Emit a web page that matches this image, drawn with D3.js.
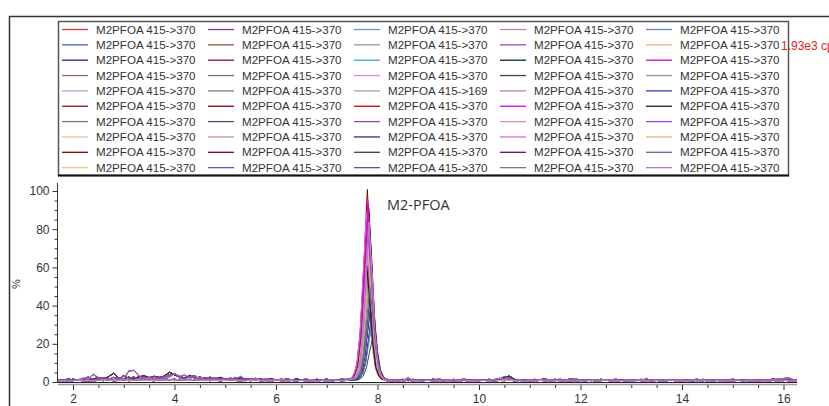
<!DOCTYPE html>
<meta charset="utf-8">
<html>
<head>
<style>
  body { margin: 0; background: #fff; }
  .legend text { font-family: "Liberation Sans", Arial, sans-serif; font-size: 11.6px; fill: #333; }
  .axis text { font-family: "Liberation Sans", Arial, sans-serif; font-size: 12px; fill: #333; }
  .axis path, .axis line { stroke: #333; }
  .trace { fill: none; stroke-width: 1px; }
</style>
</head>
<body>
<svg width="829" height="406"></svg>
<script src="https://d3js.org/d3.v7.min.js"></script>
<script>

// legend labels, column by column (5 columns x 10 rows)
var labels = [];
for (var i = 0; i < 50; i++) labels.push("M2PFOA 415->370");
labels[24] = "M2PFOA 415->169";

var colors = [
  "#d23c3c","#4b5ccc","#1c1ca0","#8c6c6c","#a8a2dc","#8b0d0d","#8a7272","#f2c294","#820000","#f0c286",
  "#7e3a86","#8a5244","#7a0a46","#5e7a7a","#6e8282","#7c0000","#4e4e6e","#c49494","#7e0010","#5c5cb4",
  "#6a96c4","#a494aa","#3aa2e6","#d684e6","#a2a2b4","#c80000","#9a44a8","#2c2c96","#2c4a4a","#5252b8",
  "#c48484","#9646c8","#002a2a","#3e3e5e","#b88686","#e000e0","#d49494","#e864e8","#720072","#907272",
  "#6488b4","#e2b484","#d400d4","#969696","#3444a6","#341414","#9646e6","#e2b484","#72648e","#b474d8"
];

// peak apex height (%) and retention time per trace
var peakHeight = [
  62, 90, 37, 71, 55, 84, 68, 46, 100, 59,
  79, 73, 92, 28, 66, 88, 34, 61, 76, 43,
  64, 52, 26, 81, 31, 74, 86, 39, 22, 57,
  69, 58, 44, 35, 72, 94, 83, 87, 48, 63,
  41, 67, 85, 53, 36, 60, 78, 70, 49, 80
];
var peakTime = [
  7.80,7.83,7.86,7.81,7.78,7.82,7.85,7.79,7.80,7.84,
  7.81,7.78,7.82,7.88,7.79,7.83,7.89,7.81,7.77,7.85,
  7.82,7.79,7.87,7.81,7.88,7.78,7.82,7.86,7.90,7.79,
  7.83,7.80,7.87,7.85,7.79,7.81,7.83,7.78,7.88,7.80,
  7.86,7.82,7.80,7.84,7.89,7.79,7.82,7.81,7.85,7.83
];
// peak profile (offset in min, fraction of apex)
var peakOffset = [-0.3,-0.24,-0.18,-0.12,-0.06,0,0.06,0.12,0.18,0.24,0.3];
var peakShape  = [0.01,0.04,0.11,0.3,0.66,1,0.68,0.32,0.11,0.04,0.01];

// baseline sample times (min)
var baseTimes = [
  1.7,1.8,1.9,2.0,2.1,2.2,2.3,2.4,2.5,2.6,
  2.7,2.8,2.9,3.0,3.1,3.2,3.3,3.4,3.5,3.6,
  3.7,3.8,3.9,4.0,4.1,4.2,4.3,4.4,4.5,4.6,
  4.7,4.8,4.9,5.0,5.1,5.2,5.3,5.4,5.5,5.6,
  5.7,5.8,5.9,6.0,6.1,6.2,6.3,6.4,6.5,6.6,
  6.7,6.8,6.9,7.0,7.1,7.2,7.3,7.4,7.5,7.6,
  7.7,7.8,7.9,8.0,8.1,8.2,8.3,8.4,8.5,8.6,
  8.7,8.8,8.9,9.0,9.1,9.2,9.3,9.4,9.5,9.6,
  9.7,9.8,9.9,10.0,10.1,10.2,10.3,10.4,10.5,10.6,
  10.7,10.8,10.9,11.0,11.1,11.2,11.3,11.4,11.5,11.6,
  11.7,11.8,11.9,12.0,12.1,12.2,12.3,12.4,12.5,12.6,
  12.7,12.8,12.9,13.0,13.1,13.2,13.3,13.4,13.5,13.6,
  13.7,13.8,13.9,14.0,14.1,14.2,14.3,14.4,14.5,14.6,
  14.7,14.8,14.9,15.0,15.1,15.2,15.3,15.4,15.5,15.6,
  15.7,15.8,15.9,16.0,16.1,16.2,16.3
];

// baseline noise (%) for a few groups of traces
var noiseA = [
  0.8,1.2,0.6,1.5,0.9,1.1,0.7,1.6,2.2,1.4, 2.8,4.6,2.1,1.8,2.5,1.9,2.7,3.3,2.2,3.0,
  2.4,3.1,5.2,3.6,2.8,2.2,3.4,2.0,2.6,1.8, 2.1,1.6,2.4,1.5,1.9,1.3,2.2,1.4,1.7,1.2,
  1.5,1.1,1.8,1.0,1.4,1.2,0.9,1.6,1.1,1.3, 0.8,1.4,1.0,1.2,0.7,1.1,1.5,0.9,1.3,1.8,
  1.2,1.0,0.9,1.4,0.8,1.1,0.6,1.3,0.9,1.0, 1.4,0.7,1.2,0.9,1.5,0.8,1.1,0.6,1.3,1.0,
  0.8,1.2,0.7,1.1,0.9,1.4,1.0,1.6,2.4,3.1, 1.4,0.9,1.2,0.7,1.1,0.8,1.3,0.6,1.0,0.9,
  1.2,0.7,1.1,0.8,1.3,0.9,0.6,1.0,1.2,0.8, 0.9,1.3,0.7,1.1,0.8,1.2,0.6,1.0,0.9,1.1,
  0.7,1.2,0.8,1.0,1.3,0.6,0.9,1.1,0.8,1.2, 0.9,0.7,1.1,0.8,1.0,1.3,0.7,0.9,1.2,0.8,
  1.0,1.6,0.9,0.7,1.1,0.8,1.0
];
var noiseB = [
  1.0,0.6,1.3,0.8,1.1,2.0,1.4,3.9,2.3,1.5, 1.8,1.2,2.0,1.6,5.8,6.1,3.2,1.9,2.5,1.7,
  2.2,3.0,2.6,4.4,2.9,3.6,2.1,2.7,1.9,2.4, 1.6,2.2,1.8,1.3,2.0,1.5,2.9,1.2,1.7,1.4,
  1.1,1.6,1.3,0.9,1.5,1.0,1.3,0.8,1.2,1.5, 1.0,0.7,1.3,0.9,1.1,0.8,1.6,1.2,1.9,2.3,
  1.0,1.3,0.8,1.1,0.9,1.4,0.7,1.2,1.0,0.8, 1.3,1.0,0.7,1.2,0.9,1.6,1.1,0.8,1.4,0.9,
  1.7,0.8,1.2,0.9,1.1,0.7,1.3,1.0,1.8,1.2, 0.9,1.3,0.7,1.1,1.4,0.8,1.2,0.9,1.0,1.5,
  0.8,1.1,1.7,0.9,1.2,0.7,1.0,1.3,0.8,1.1, 1.5,0.9,1.2,0.7,1.1,1.4,0.8,1.0,1.2,0.9,
  1.1,0.8,1.3,0.9,1.0,1.2,0.7,1.4,1.1,0.8, 1.2,0.9,1.0,1.5,0.8,1.1,0.7,1.3,1.0,1.2,
  0.9,1.2,1.5,1.8,2.2,1.1,1.4
];
var noiseC = [
  0.5,0.9,0.4,0.7,1.0,0.6,0.8,0.5,0.9,0.7, 1.1,0.6,0.8,1.2,0.7,0.9,1.3,0.8,1.0,0.6,
  1.4,0.9,1.1,0.7,1.5,1.0,0.8,1.2,0.9,1.1, 0.7,1.0,0.6,0.9,1.2,0.8,0.5,0.9,0.7,1.0,
  0.6,0.8,0.5,0.9,0.7,0.4,0.8,0.6,0.9,0.5, 0.7,0.4,0.8,0.6,0.5,0.9,0.7,0.8,1.1,1.4,
  0.8,0.6,0.9,0.5,0.7,0.4,0.8,0.6,0.5,0.9, 0.6,0.4,0.7,0.9,0.5,0.8,0.6,0.4,0.7,0.5,
  0.8,0.6,0.4,0.7,0.9,0.5,0.6,0.8,0.7,1.0, 0.6,0.8,0.5,0.7,0.4,0.9,0.6,0.5,0.8,0.7,
  0.5,0.7,0.4,0.8,0.6,1.0,0.5,0.7,0.9,0.6, 0.4,0.8,0.6,0.5,0.9,0.7,0.4,0.6,0.8,0.5,
  0.7,0.9,0.5,0.6,0.4,0.8,0.7,1.0,0.5,0.6, 0.8,0.4,0.7,0.5,0.9,0.6,0.8,0.5,0.7,0.4,
  0.6,0.8,0.5,0.9,0.7,0.5,0.6
];
var noiseD = [
  1.3,0.8,1.6,1.1,0.9,1.4,2.6,1.2,1.7,2.1, 1.3,2.4,1.6,3.4,2.0,2.6,1.5,2.2,1.8,2.9,
  1.7,2.3,3.8,4.1,2.5,1.9,2.8,3.2,1.6,2.0, 2.5,1.4,1.9,1.2,1.6,2.1,1.1,1.5,1.3,1.8,
  0.9,1.4,1.0,1.3,0.8,1.6,1.2,0.9,1.1,0.7, 1.3,0.9,1.1,1.5,0.8,1.2,1.0,1.4,1.6,2.0,
  0.9,1.2,0.7,1.0,1.3,0.8,1.1,0.9,1.4,0.7, 1.0,1.2,0.8,1.1,0.6,1.3,0.9,1.0,0.7,1.2,
  0.9,1.1,1.3,0.8,1.0,1.2,0.7,1.4,2.8,2.2, 1.1,0.8,1.0,1.3,0.7,1.2,1.6,1.0,1.4,0.9,
  1.1,1.5,1.3,0.8,1.0,1.2,0.9,1.4,1.0,0.7, 1.2,0.9,1.0,1.3,0.8,1.1,1.5,0.9,1.2,0.8,
  1.0,1.3,0.7,1.1,0.9,1.2,1.4,0.8,1.0,1.1, 0.8,1.2,0.9,1.4,1.0,0.7,1.1,0.9,1.3,0.8,
  1.1,0.9,1.2,1.4,1.0,0.8,1.1
];
var noiseE = [
  0.7,1.0,0.5,0.8,1.2,0.9,0.6,1.1,0.8,1.4, 0.9,1.3,1.0,1.6,1.2,0.8,1.5,1.1,2.0,1.3,
  1.0,1.8,1.2,1.5,0.9,1.7,1.1,1.4,2.6,1.2, 0.9,1.3,1.0,1.6,0.8,1.2,1.0,0.7,1.3,1.9,
  1.0,0.7,1.2,0.9,1.4,0.8,1.1,0.6,1.0,0.8, 1.2,0.7,1.0,0.8,1.3,0.9,0.6,1.1,1.8,2.2,
  1.0,0.8,1.1,0.7,0.9,1.2,0.8,1.0,0.6,2.1, 0.9,0.7,1.1,0.8,1.0,0.6,1.2,0.9,1.4,0.8,
  1.0,0.7,0.9,1.2,0.8,1.0,1.3,1.9,1.2,1.6, 0.8,1.1,0.7,1.0,0.9,1.2,0.8,1.0,0.7,1.1,
  0.9,0.8,1.2,0.7,1.0,0.9,1.1,0.8,1.3,0.7, 1.0,0.8,1.1,0.9,0.7,1.2,0.8,1.0,0.9,1.1,
  0.8,1.0,0.7,1.2,0.9,1.1,0.8,0.6,1.0,0.9, 1.1,0.8,1.0,0.7,1.2,0.9,0.8,1.1,0.7,1.0,
  0.9,1.2,0.8,1.0,0.7,0.9,0.8
];
var noiseSets = [noiseA, noiseB, noiseC, noiseD, noiseE];

var yTicks = [0, 20, 40, 60, 80, 100];
var xTicks = [2, 4, 6, 8, 10, 12, 14, 16];

var svg = d3.select("svg");

// build each trace: baseline outside the peak window + peak points
var traces = colors.map(function (c, s) {
  var noise = noiseSets[s % noiseSets.length];
  var t0 = peakTime[s] + peakOffset[0], t1 = peakTime[s] + peakOffset[peakOffset.length - 1];
  var pts = [];
  baseTimes.forEach(function (t, k) {
    if (t < t0 - 0.02 || t > t1 + 0.02) pts.push({t: t, v: noise[k]});
  });
  peakOffset.forEach(function (o, k) {
    pts.push({t: peakTime[s] + o, v: 0.8 + peakShape[k] * peakHeight[s]});
  });
  pts.sort(function (a, b) { return a.t - b.t; });
  return {color: c, pts: pts};
});

var x = d3.scaleLinear().domain([1.7, 16.26]).range([57.8, 796.7]);
var y = d3.scaleLinear().domain([0, 100]).range([382, 191]);

// outer frame
svg.append("path")
    .attr("d", "M9.5,406V16.5H829")
    .attr("fill", "none")
    .attr("stroke", "#333")
    .attr("stroke-width", 1.5);

// legend
var legend = svg.append("g").attr("class", "legend");
legend.append("rect")
    .attr("x", 58.5).attr("y", 21.5)
    .attr("width", 730).attr("height", 154)
    .attr("fill", "#fff")
    .attr("stroke", "#555")
    .attr("stroke-width", 1.5);
svg.append("line")
    .attr("x1", 58).attr("x2", 789)
    .attr("y1", 175.5).attr("y2", 175.5)
    .attr("stroke", "#111").attr("stroke-width", 2);

var item = legend.selectAll("g.item")
    .data(labels)
    .enter().append("g")
    .attr("class", "item")
    .attr("transform", function (d, i) {
      var col = Math.floor(i / 10), row = i % 10;
      return "translate(" + (62 + col * 146) + "," + (29.5 + row * 15.35) + ")";
    });
item.append("line")
    .attr("x1", 0).attr("x2", 26)
    .attr("stroke", function (d, i) { return colors[i]; })
    .attr("stroke-width", 1.3);
item.append("text")
    .attr("x", 34)
    .attr("dy", "0.36em")
    .text(function (d) { return d; });

svg.append("text")
    .attr("x", 781).attr("y", 49.5)
    .attr("fill", "#e02424")
    .style("font-family", "Liberation Sans, Arial, sans-serif")
    .style("font-size", "12px")
    .text("1.93e3 cp");

// traces
svg.append("defs").append("clipPath").attr("id", "clip")
  .append("rect").attr("x", 58).attr("y", 180).attr("width", 739).attr("height", 203);

var line = d3.line()
    .x(function (d) { return x(d.t); })
    .y(function (d) { return y(d.v); });

svg.append("g").attr("clip-path", "url(#clip)")
  .selectAll("path")
  .data(traces)
  .enter().append("path")
    .attr("class", "trace")
    .attr("stroke", function (d) { return d.color; })
    .attr("d", function (d) { return line(d.pts); });

// y axis
svg.append("g")
    .attr("class", "axis")
    .attr("transform", "translate(57.5,0)")
    .call(d3.axisLeft(y).tickValues(d3.range(0, 101, 5).filter(function (v) { return v % 20; }))
      .tickSize(3).tickFormat(""))
    .call(function (g) { g.select(".domain").remove(); });
svg.append("g")
    .attr("class", "axis")
    .attr("transform", "translate(57.5,0)")
    .call(d3.axisLeft(y).tickValues(yTicks).tickSize(5).tickPadding(3).tickSizeOuter(0))
    .call(function (g) { g.select(".domain").attr("d", "M0,183V383"); });

svg.append("text")
    .attr("transform", "translate(20,284) rotate(-90)")
    .attr("text-anchor", "middle")
    .attr("fill", "#333")
    .style("font-family", "Liberation Sans, Arial, sans-serif")
    .style("font-size", "11px")
    .text("%");

// x axis: dark line plus grey double rule
svg.append("line")
    .attr("x1", 58).attr("x2", 797)
    .attr("y1", 382.5).attr("y2", 382.5)
    .attr("stroke", "#222");
svg.append("line")
    .attr("x1", 58).attr("x2", 797)
    .attr("y1", 384.5).attr("y2", 384.5)
    .attr("stroke", "#999").attr("stroke-width", 1.5);

var minorX = [];
for (var m = 2.5; m < 16.26; m += 1) minorX.push(m);
for (var m2 = 3; m2 < 16.26; m2 += 2) minorX.push(m2);
svg.append("g")
    .attr("class", "axis")
    .attr("transform", "translate(0,385)")
    .call(d3.axisBottom(x).tickValues(minorX).tickSize(3).tickFormat(""))
    .call(function (g) { g.select(".domain").remove(); });
svg.append("g")
    .attr("class", "axis")
    .attr("transform", "translate(0,385)")
    .call(d3.axisBottom(x).tickValues(xTicks).tickSize(5).tickPadding(4))
    .call(function (g) { g.select(".domain").remove(); });

// compound label
svg.append("text")
    .attr("x", 387).attr("y", 210)
    .attr("fill", "#333")
    .style("font-family", "Open Sans, Noto Sans, sans-serif")
    .style("font-size", "14.5px")
    .text("M2-PFOA");

</script>
</body>
</html>
